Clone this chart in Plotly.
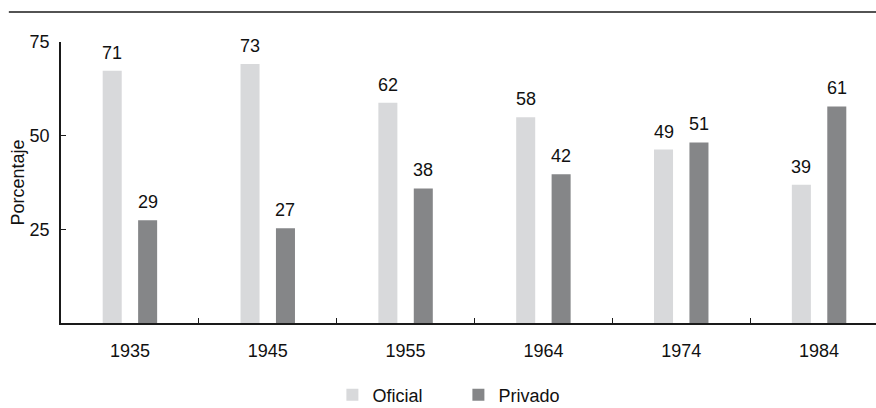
import plotly.graph_objects as go

years = ["1935", "1945", "1955", "1964", "1974", "1984"]
oficial_labels = [71, 73, 62, 58, 49, 39]
privado_labels = [29, 27, 38, 42, 51, 61]
# bar heights as drawn in the reference (read against the axis)
oficial_heights = [67.3, 69.1, 58.8, 54.9, 46.3, 36.9]
privado_heights = [27.4, 25.3, 35.9, 39.7, 48.2, 57.8]
y_ticks = [25, 50, 75]

LIGHT = "#d8d9db"
DARK = "#858688"
FONT = "Liberation Sans"

fig = go.Figure()
fig.add_trace(go.Bar(name="Oficial", x=years, y=oficial_heights,
                     marker=dict(color=LIGHT, line=dict(width=0))))
fig.add_trace(go.Bar(name="Privado", x=years, y=privado_heights,
                     marker=dict(color=DARK, line=dict(width=0))))

annotations = []
for series, heights, labels, shift in (("o", oficial_heights, oficial_labels, -17.7),
                                       ("p", privado_heights, privado_labels, 17.7)):
    for i, (h, lab) in enumerate(zip(heights, labels)):
        # category axis: position given by category serial index
        annotations.append(dict(x=i, y=h, text=str(lab), xref="x", yref="y",
                                showarrow=False, yanchor="bottom", xshift=shift,
                                yshift=6, font=dict(size=18, color="#111", family=FONT)))

fig.update_layout(
    width=876, height=408,
    margin=dict(l=61, r=0, t=42, b=85, autoexpand=False),
    paper_bgcolor="white", plot_bgcolor="white",
    font=dict(family=FONT, size=18, color="#111"),
    barmode="group", bargap=0.486, bargroupgap=0.463,
    showlegend=True,
    legend=dict(orientation="h", x=0.333, xanchor="left",
                yref="container", y=0.077, yanchor="top",
                font=dict(size=18, family=FONT), traceorder="normal",
                itemwidth=30, entrywidth=81, entrywidthmode="pixels",
                bgcolor="rgba(0,0,0,0)"),
    annotations=annotations,
    shapes=[dict(type="line", xref="paper", yref="paper", x0=-0.064, x1=1.0,
                 y0=1.107, y1=1.107, line=dict(color="#1a1a1a", width=1.5))],
)
fig.update_xaxes(type="category", range=[-0.5, 5.413], showline=True,
                 linecolor="#1a1a1a", linewidth=1.5, ticks="inside", ticklen=5,
                 tickcolor="#1a1a1a", tickson="boundaries", showgrid=False,
                 tickfont=dict(size=18), zeroline=False, ticklabelstandoff=11)
fig.update_yaxes(range=[0, 75], tickvals=y_ticks, showline=True,
                 linecolor="#1a1a1a", linewidth=1.5, ticks="inside", ticklen=5,
                 tickcolor="#1a1a1a", showgrid=False, zeroline=False,
                 tickfont=dict(size=18), ticklabelstandoff=6,
                 title=dict(text="Porcentaje", font=dict(size=18), standoff=0))

fig.write_html("out.html")
